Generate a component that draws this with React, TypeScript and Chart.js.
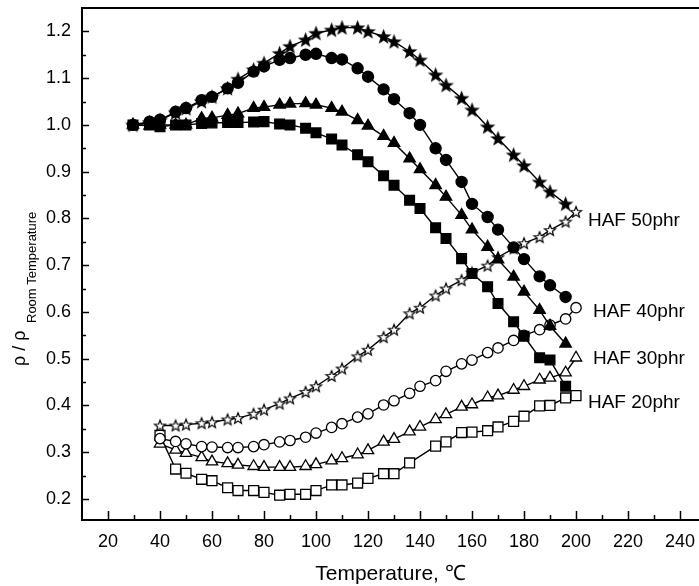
import React, { useEffect, useRef } from "react";
import { Chart, registerables } from "chart.js";

Chart.register(...registerables);

// ---- data ----
const heatTemps = [29.6, 36, 40, 46, 50, 56, 60, 66, 70, 76, 80, 86, 90, 96, 100, 106, 110, 116, 120, 126, 130, 136, 140, 146, 150, 156, 160, 166, 170, 176, 180, 186, 190, 196];
const heat50 = [1.000, 1.005, 1.010, 1.026, 1.035, 1.050, 1.060, 1.078, 1.098, 1.118, 1.132, 1.153, 1.168, 1.182, 1.196, 1.203, 1.208, 1.208, 1.200, 1.189, 1.178, 1.157, 1.139, 1.107, 1.085, 1.057, 1.032, 0.996, 0.971, 0.936, 0.913, 0.878, 0.857, 0.831];
const heat40 = [1.000, 1.007, 1.011, 1.028, 1.036, 1.053, 1.060, 1.078, 1.090, 1.114, 1.125, 1.139, 1.143, 1.150, 1.152, 1.143, 1.140, 1.121, 1.103, 1.076, 1.055, 1.025, 1.000, 0.950, 0.925, 0.878, 0.831, 0.803, 0.776, 0.738, 0.713, 0.676, 0.657, 0.632];
const heat30 = [1.000, 0.998, 1.000, 1.000, 1.000, 1.014, 1.015, 1.021, 1.024, 1.036, 1.038, 1.043, 1.045, 1.046, 1.043, 1.036, 1.028, 1.010, 0.998, 0.976, 0.961, 0.928, 0.905, 0.871, 0.846, 0.807, 0.776, 0.739, 0.712, 0.675, 0.643, 0.604, 0.570, 0.532];
const heat20 = [1.000, 1.000, 0.996, 1.000, 1.000, 1.003, 1.004, 1.005, 1.005, 1.006, 1.007, 1.002, 1.000, 0.993, 0.983, 0.970, 0.957, 0.936, 0.921, 0.891, 0.871, 0.839, 0.821, 0.780, 0.757, 0.714, 0.682, 0.654, 0.618, 0.579, 0.548, 0.502, 0.497, 0.441];

const coolTemps = [40, 46, 50, 56, 60, 66, 70, 76, 80, 86, 90, 96, 100, 106, 110, 116, 120, 126, 130, 136, 140, 146, 150, 156, 160, 166, 170, 176, 180, 186, 190, 196, 200];
const cool50 = [0.357, 0.357, 0.359, 0.362, 0.364, 0.370, 0.373, 0.382, 0.391, 0.404, 0.415, 0.429, 0.441, 0.463, 0.479, 0.505, 0.519, 0.546, 0.562, 0.597, 0.609, 0.635, 0.650, 0.668, 0.684, 0.699, 0.717, 0.736, 0.747, 0.760, 0.775, 0.793, 0.814];
const cool40 = [0.329, 0.323, 0.318, 0.312, 0.311, 0.310, 0.310, 0.312, 0.316, 0.322, 0.325, 0.332, 0.341, 0.353, 0.361, 0.375, 0.382, 0.401, 0.410, 0.426, 0.441, 0.453, 0.473, 0.489, 0.497, 0.513, 0.523, 0.539, 0.550, 0.562, 0.572, 0.585, 0.609];
const cool30 = [0.318, 0.305, 0.298, 0.289, 0.280, 0.276, 0.273, 0.270, 0.268, 0.268, 0.268, 0.270, 0.274, 0.282, 0.287, 0.295, 0.304, 0.322, 0.328, 0.344, 0.354, 0.370, 0.381, 0.397, 0.402, 0.417, 0.421, 0.433, 0.441, 0.455, 0.459, 0.470, 0.502];
const cool20Temps = [40, 46, 50, 56, 60, 66, 70, 76, 80, 86, 90, 96, 100, 106, 110, 116, 120, 126, 130, 136, 146, 150, 156, 160, 166, 170, 176, 180, 186, 190, 196, 200];
const cool20 = [0.336, 0.264, 0.255, 0.242, 0.239, 0.224, 0.218, 0.218, 0.214, 0.208, 0.210, 0.210, 0.218, 0.230, 0.230, 0.234, 0.244, 0.254, 0.254, 0.277, 0.313, 0.322, 0.342, 0.343, 0.346, 0.354, 0.366, 0.377, 0.399, 0.400, 0.416, 0.421];

const seriesLabels = ["HAF 50phr", "HAF 40phr", "HAF 30phr", "HAF 20phr"];
const seriesLabelX = [204.6, 206.5, 206.5, 204.6];
const seriesLabelY = [0.795, 0.601, 0.500, 0.406];

const xTickValues = [20, 40, 60, 80, 100, 120, 140, 160, 180, 200, 220, 240];
const xMinorTicks = [30, 50, 70, 90, 110, 130, 150, 170, 190, 210, 230];
const yTickValues = [0.2, 0.3, 0.4, 0.5, 0.6, 0.7, 0.8, 0.9, 1.0, 1.1, 1.2];
const yMinorTicks = [0.25, 0.35, 0.45, 0.55, 0.65, 0.75, 0.85, 0.95, 1.05, 1.15];

const xTitle = "Temperature, \u2103";
const yTitleMain = "\u03c1 / \u03c1";
const yTitleSub = "Room Temperature";

const FONT = "'Liberation Sans', Arial, Helvetica, sans-serif";

function pts(xs: number[], ys: number[]) {
  return xs.map((x, i) => ({ x, y: ys[i] }));
}

function makeStar(filled: boolean, outer: number, inner: number) {
  const size = Math.ceil(outer * 2 + 4);
  const c = document.createElement("canvas");
  c.width = size;
  c.height = size;
  const ctx = c.getContext("2d")!;
  const cx = size / 2;
  const cy = size / 2 + 0.5;
  ctx.beginPath();
  for (let i = 0; i < 10; i++) {
    const r = i % 2 === 0 ? outer : inner;
    const a = -Math.PI / 2 + (i * Math.PI) / 5;
    const px = cx + r * Math.cos(a);
    const py = cy + r * Math.sin(a);
    if (i === 0) ctx.moveTo(px, py);
    else ctx.lineTo(px, py);
  }
  ctx.closePath();
  ctx.fillStyle = filled ? "#000" : "#fff";
  ctx.fill();
  ctx.lineWidth = 1.2;
  ctx.strokeStyle = "#000";
  ctx.stroke();
  return c;
}

const decorPlugin = {
  id: "decor",
  afterDraw(chart: any) {
    const { ctx, chartArea, scales } = chart;
    const xs = scales.x;
    const ys = scales.y;
    ctx.save();
    ctx.strokeStyle = "#000";
    // top border
    ctx.lineWidth = 2;
    ctx.beginPath();
    ctx.moveTo(chartArea.left - 1, chartArea.top);
    ctx.lineTo(chartArea.right, chartArea.top);
    ctx.stroke();
    // inward ticks
    ctx.lineWidth = 1.5;
    const b = chartArea.bottom;
    const l = chartArea.left;
    ctx.beginPath();
    xTickValues.forEach((v) => {
      const px = Math.round(xs.getPixelForValue(v)) + 0.5;
      ctx.moveTo(px, b);
      ctx.lineTo(px, b - 9);
    });
    xMinorTicks.forEach((v) => {
      const px = Math.round(xs.getPixelForValue(v)) + 0.5;
      ctx.moveTo(px, b);
      ctx.lineTo(px, b - 5);
    });
    yTickValues.forEach((v) => {
      const py = Math.round(ys.getPixelForValue(v)) + 0.5;
      ctx.moveTo(l, py);
      ctx.lineTo(l + 7, py);
    });
    yMinorTicks.forEach((v) => {
      const py = Math.round(ys.getPixelForValue(v)) + 0.5;
      ctx.moveTo(l, py);
      ctx.lineTo(l + 4, py);
    });
    ctx.stroke();

    // series labels
    ctx.fillStyle = "#000";
    ctx.font = `19px ${FONT}`;
    ctx.textAlign = "left";
    ctx.textBaseline = "middle";
    seriesLabels.forEach((t, i) => {
      ctx.fillText(t, xs.getPixelForValue(seriesLabelX[i]), ys.getPixelForValue(seriesLabelY[i]));
    });

    // y title with subscript
    ctx.translate(20, 366);
    ctx.rotate(-Math.PI / 2);
    ctx.font = `18px ${FONT}`;
    ctx.textBaseline = "middle";
    ctx.fillText(yTitleMain, 0, 0);
    ctx.font = `13px ${FONT}`;
    ctx.fillText(yTitleSub, 43, 12);
    ctx.restore();
  },
};

export default function App() {
  const ref = useRef<HTMLCanvasElement | null>(null);

  useEffect(() => {
    document.body.style.margin = "0";
    const canvas = ref.current;
    if (!canvas) return;
    Chart.defaults.color = "#000";
    Chart.defaults.font.family = FONT;

    const starFilled = makeStar(true, 6.5, 2.7);
    const starOpen = makeStar(false, 5.8, 2.5);

    const line = { borderColor: "#000", borderWidth: 1.4, showLine: true, tension: 0, clip: false as any };

    const datasets: any[] = [
      { ...line, label: "50 heat", data: pts(heatTemps, heat50), pointStyle: starFilled, pointRadius: 6, backgroundColor: "#000" },
      { ...line, label: "40 heat", data: pts(heatTemps, heat40), pointStyle: "circle", pointRadius: 5.5, backgroundColor: "#000", pointBorderColor: "#000" },
      { ...line, label: "30 heat", data: pts(heatTemps, heat30), pointStyle: "triangle", pointRadius: 6.5, backgroundColor: "#000", pointBorderColor: "#000" },
      { ...line, label: "20 heat", data: pts(heatTemps, heat20), pointStyle: "rect", pointRadius: 6.8, backgroundColor: "#000", pointBorderColor: "#000" },
      { ...line, label: "50 cool", data: pts(coolTemps, cool50), pointStyle: starOpen, pointRadius: 6, backgroundColor: "#fff" },
      { ...line, label: "40 cool", data: pts(coolTemps, cool40), pointStyle: "circle", pointRadius: 5.2, pointBackgroundColor: "#fff", pointBorderColor: "#000", pointBorderWidth: 1.3 },
      { ...line, label: "30 cool", data: pts(coolTemps, cool30), pointStyle: "triangle", pointRadius: 6.5, pointBackgroundColor: "#fff", pointBorderColor: "#000", pointBorderWidth: 1.3 },
      { ...line, label: "20 cool", data: pts(cool20Temps, cool20), pointStyle: "rect", pointRadius: 7, pointBackgroundColor: "#fff", pointBorderColor: "#000", pointBorderWidth: 1.3 },
    ];

    const chart = new Chart(canvas, {
      type: "line",
      data: { datasets },
      options: {
        animation: false,
        responsive: false,
        maintainAspectRatio: false,
        layout: { autoPadding: false, padding: { top: 8, left: 0, right: 0, bottom: 0 } },
        plugins: { legend: { display: false }, tooltip: { enabled: false } },
        scales: {
          x: {
            type: "linear",
            min: 10,
            max: 247.3,
            grid: { display: false, drawTicks: false },
            border: { display: true, color: "#000", width: 2 },
            ticks: { font: { size: 18 }, padding: 11, maxRotation: 0, color: "#000" },
            afterBuildTicks: (s: any) => {
              s.ticks = xTickValues.map((v) => ({ value: v }));
            },
            afterFit: (s: any) => {
              s.height = 66;
              s.paddingLeft = 0;
              s.paddingRight = 0;
            },
            title: { display: true, text: xTitle, font: { size: 21 }, padding: { top: 0, bottom: -1 }, color: "#000" },
          },
          y: {
            type: "linear",
            min: 0.155,
            max: 1.25,
            grid: { display: false, drawTicks: false },
            border: { display: true, color: "#000", width: 2 },
            ticks: { font: { size: 18 }, padding: 11, color: "#000", callback: (v: any) => Number(v).toFixed(1) },
            afterBuildTicks: (s: any) => {
              s.ticks = yTickValues.map((v) => ({ value: v }));
            },
            afterFit: (s: any) => {
              s.width = 82;
              s.paddingTop = 0;
              s.paddingBottom = 0;
            },
          },
        },
      },
      plugins: [decorPlugin],
    });
    return () => chart.destroy();
  }, []);

  return (
    <div style={{ position: "fixed", left: 0, top: 0, width: 699, height: 586, background: "#fff" }}>
      <canvas ref={ref} width={699} height={586} style={{ width: 699, height: 586, display: "block" }} />
    </div>
  );
}
